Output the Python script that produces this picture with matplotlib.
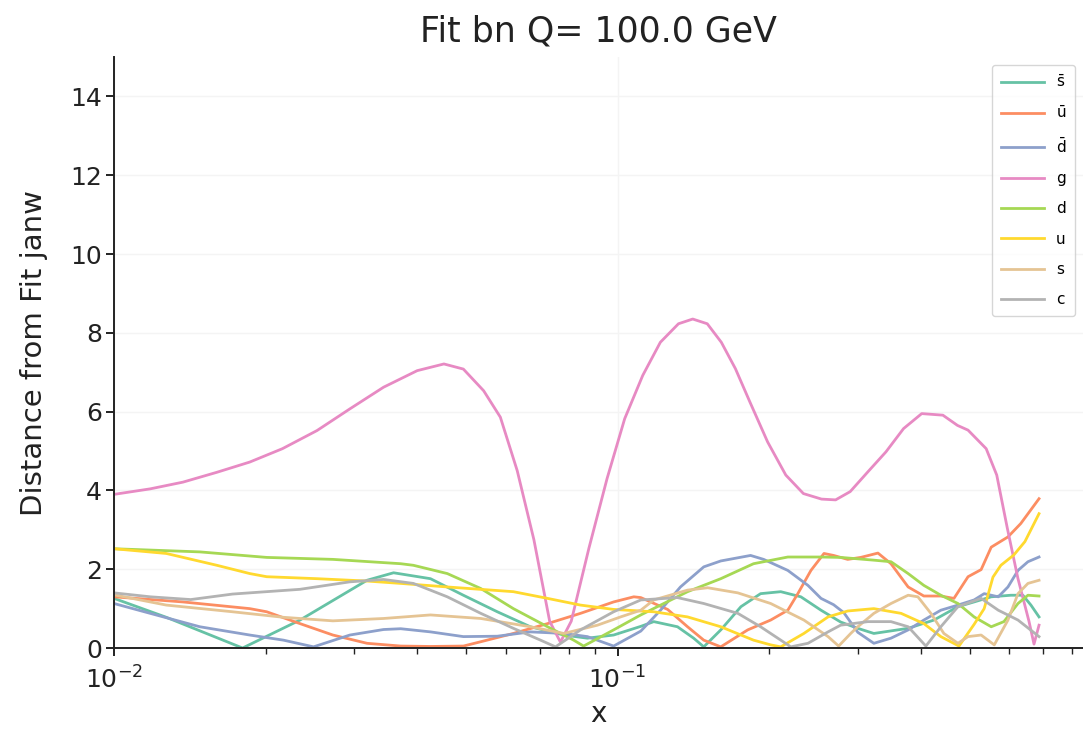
import matplotlib
matplotlib.use("Agg")
import matplotlib.pyplot as plt

# Distance of each parton distribution from the reference fit, Q = 100 GeV
sbar_x = [0.01, 0.0127, 0.018, 0.0234, 0.0318, 0.0359, 0.0425, 0.0494, 0.0577, 0.0671,
          0.0782, 0.0871, 0.0982, 0.1112, 0.118, 0.1315, 0.1416, 0.1483, 0.1603, 0.1758,
          0.1923, 0.2109, 0.2312, 0.2535, 0.2773, 0.2999, 0.3228, 0.3776, 0.4249, 0.4742,
          0.5105, 0.5521, 0.604, 0.638, 0.662, 0.687]
sbar_y = [1.26, 0.78, 0.0, 0.71, 1.72, 1.91, 1.76, 1.34, 0.92, 0.54,
          0.33, 0.25, 0.33, 0.55, 0.67, 0.54, 0.25, 0.03, 0.46, 1.05,
          1.38, 1.43, 1.30, 0.96, 0.66, 0.5, 0.37, 0.5, 0.71, 1.05,
          1.17, 1.30, 1.34, 1.34, 1.09, 0.79]

ubar_x = [0.01, 0.0137, 0.0186, 0.0201, 0.0234, 0.0272, 0.0318, 0.0371, 0.0425, 0.0494,
          0.0535, 0.0621, 0.0726, 0.0844, 0.0982, 0.1077, 0.1112, 0.1257, 0.1377, 0.1483,
          0.1603, 0.1813, 0.2014, 0.2178, 0.228, 0.2421, 0.257, 0.2685, 0.2864, 0.304,
          0.3289, 0.3491, 0.3776, 0.4057, 0.4385, 0.4656, 0.4966, 0.5272, 0.5521, 0.596,
          0.632, 0.687]
ubar_y = [1.3, 1.17, 1.0, 0.92, 0.62, 0.33, 0.12, 0.05, 0.04, 0.05,
          0.16, 0.37, 0.62, 0.88, 1.17, 1.30, 1.28, 0.98, 0.54, 0.2,
          0.03, 0.46, 0.71, 0.96, 1.38, 1.97, 2.40, 2.35, 2.25, 2.30,
          2.41, 2.14, 1.55, 1.32, 1.32, 1.26, 1.81, 1.99, 2.56, 2.82,
          3.16, 3.79]

dbar_x = [0.01, 0.0118, 0.0148, 0.0186, 0.0217, 0.0249, 0.0294, 0.0343, 0.0371, 0.0425,
          0.0494, 0.0577, 0.0671, 0.0782, 0.0871, 0.0982, 0.1112, 0.1217, 0.1333, 0.1483,
          0.1603, 0.1837, 0.195, 0.2178, 0.2388, 0.2535, 0.2685, 0.2813, 0.2999, 0.3228,
          0.3491, 0.3776, 0.4057, 0.4385, 0.4742, 0.5105, 0.5346, 0.5702, 0.596, 0.624,
          0.653, 0.687]
dbar_y = [1.13, 0.88, 0.54, 0.33, 0.2, 0.03, 0.33, 0.47, 0.49, 0.41,
          0.29, 0.3, 0.41, 0.37, 0.29, 0.05, 0.43, 0.96, 1.55, 2.06,
          2.21, 2.35, 2.25, 1.97, 1.59, 1.26, 1.1, 0.9, 0.4, 0.12,
          0.25, 0.46, 0.71, 0.96, 1.09, 1.22, 1.38, 1.30, 1.55, 1.97,
          2.19, 2.31]

g_x = [0.01, 0.0118, 0.0137, 0.016, 0.0186, 0.0216, 0.0253, 0.0294, 0.0343, 0.04,
       0.0452, 0.0494, 0.0542, 0.0585, 0.0632, 0.0682, 0.0733, 0.077, 0.0809, 0.0877,
       0.0953, 0.1033, 0.1122, 0.1216, 0.1321, 0.141, 0.1507, 0.1607, 0.1714, 0.1832,
       0.1986, 0.2158, 0.2339, 0.2541, 0.271, 0.2897, 0.314, 0.3412, 0.3698, 0.4018,
       0.4426, 0.4732, 0.4966, 0.5395, 0.5662, 0.5943, 0.6237, 0.6561, 0.6714, 0.687]
g_y = [3.9, 4.04, 4.21, 4.46, 4.72, 5.06, 5.52, 6.07, 6.62, 7.04,
       7.21, 7.08, 6.53, 5.86, 4.5, 2.75, 0.68, 0.15, 0.68, 2.53,
       4.30, 5.82, 6.92, 7.76, 8.23, 8.35, 8.23, 7.76, 7.09, 6.24,
       5.23, 4.39, 3.92, 3.78, 3.76, 3.97, 4.47, 4.98, 5.57, 5.95,
       5.91, 5.65, 5.53, 5.06, 4.39, 3.04, 1.77, 0.68, 0.1, 0.58]

d_x = [0.01, 0.0148, 0.0201, 0.0272, 0.0371, 0.0393, 0.0459, 0.0535, 0.0621, 0.0726,
       0.0818, 0.0856, 0.0982, 0.1112, 0.1377, 0.1603, 0.1862, 0.2178, 0.2535, 0.2773,
       0.3228, 0.3491, 0.3776, 0.4057, 0.4385, 0.4742, 0.5105, 0.5521, 0.585, 0.624,
       0.653, 0.687]
d_y = [2.52, 2.44, 2.30, 2.25, 2.14, 2.10, 1.89, 1.51, 1.0, 0.54,
       0.2, 0.05, 0.46, 0.84, 1.43, 1.76, 2.14, 2.31, 2.31, 2.30,
       2.23, 2.19, 1.89, 1.59, 1.34, 1.13, 0.79, 0.54, 0.67, 1.13,
       1.34, 1.32]

u_x = [0.01, 0.0127, 0.016, 0.0186, 0.0201, 0.0253, 0.0318, 0.0371, 0.0459, 0.0621,
       0.0726, 0.0844, 0.0982, 0.118, 0.1377, 0.1603, 0.1862, 0.2014, 0.2109, 0.2344,
       0.2618, 0.2864, 0.3228, 0.3656, 0.4057, 0.4385, 0.4764, 0.5105, 0.5346, 0.5565,
       0.577, 0.612, 0.644, 0.687]
u_y = [2.52, 2.40, 2.10, 1.89, 1.81, 1.76, 1.70, 1.64, 1.55, 1.43,
       1.26, 1.09, 0.98, 0.92, 0.79, 0.54, 0.2, 0.08, 0.03, 0.37,
       0.79, 0.94, 1.0, 0.88, 0.62, 0.29, 0.05, 0.6, 1.0, 1.8,
       2.1, 2.36, 2.7, 3.41]

s_x = [0.01, 0.0127, 0.0172, 0.0217, 0.0272, 0.0343, 0.0425, 0.0535, 0.0671, 0.0782,
       0.0912, 0.1014, 0.1112, 0.118, 0.1377, 0.151, 0.1733, 0.2014, 0.2344, 0.2618,
       0.2748, 0.2904, 0.2999, 0.3228, 0.3491, 0.3776, 0.3948, 0.419, 0.4446, 0.4742,
       0.4966, 0.5272, 0.5598, 0.596, 0.624, 0.653, 0.687]
s_y = [1.35, 1.09, 0.92, 0.78, 0.69, 0.75, 0.84, 0.75, 0.54, 0.37,
       0.58, 0.79, 0.96, 1.22, 1.47, 1.53, 1.40, 1.13, 0.71, 0.29,
       0.05, 0.37, 0.54, 0.88, 1.13, 1.34, 1.30, 0.88, 0.37, 0.12,
       0.29, 0.33, 0.08, 0.71, 1.38, 1.64, 1.72]

c_x = [0.01, 0.0118, 0.0142, 0.0172, 0.0234, 0.0294, 0.0343, 0.0393, 0.0459, 0.0535,
       0.0621, 0.0703, 0.0753, 0.0844, 0.0982, 0.1112, 0.1315, 0.1483, 0.1733, 0.1923,
       0.2109, 0.2208, 0.2388, 0.2618, 0.2773, 0.314, 0.3491, 0.3776, 0.4095, 0.4385,
       0.4742, 0.5272, 0.5702, 0.624, 0.687]
c_y = [1.40, 1.30, 1.23, 1.37, 1.49, 1.68, 1.74, 1.64, 1.30, 0.88,
       0.5, 0.2, 0.03, 0.46, 0.92, 1.22, 1.28, 1.13, 0.88, 0.54,
       0.2, 0.03, 0.12, 0.41, 0.58, 0.67, 0.67, 0.54, 0.05, 0.54,
       1.05, 1.26, 0.96, 0.71, 0.29]

labels = [r"$\bar{\mathrm{s}}$", r"$\bar{\mathrm{u}}$", r"$\bar{\mathrm{d}}$",
          "g", "d", "u", "s", "c"]
colors = ["#66c2a5", "#fc8d62", "#8da0cb", "#e78ac3",
          "#a6d854", "#ffd92f", "#e5c494", "#b3b3b3"]
series = [(sbar_x, sbar_y), (ubar_x, ubar_y), (dbar_x, dbar_y), (g_x, g_y),
          (d_x, d_y), (u_x, u_y), (s_x, s_y), (c_x, c_y)]

plt.rcParams["font.family"] = ["DejaVu Sans"]

fig = plt.figure(figsize=(10.83, 7.31), dpi=100)
ax = fig.add_axes([0.1053, 0.1135, 0.8947, 0.8085])

for (xs, ys), lab, col in zip(series, labels, colors):
    ax.plot(xs, ys, color=col, lw=2.0, label=lab, solid_joinstyle="round")

ax.set_xscale("log")
ax.set_xlim(0.01, 0.84)
ax.set_ylim(0, 15)
ax.set_yticks(range(0, 15, 2))
ax.grid(True, which="major", color="#f4f4f4", lw=1.0)
ax.set_axisbelow(True)

for side in ("top", "right"):
    ax.spines[side].set_visible(False)
for side in ("left", "bottom"):
    ax.spines[side].set_color("#222222")
    ax.spines[side].set_linewidth(1.4)

ax.tick_params(axis="both", which="major", labelsize=18, length=6, width=1.4,
               color="#222222", labelcolor="#222222")
ax.tick_params(axis="y", which="major", pad=2.5)
ax.tick_params(axis="x", which="major", pad=7)
ax.tick_params(axis="x", which="minor", length=4, width=1.0, color="#222222")

ax.set_xlabel("x", fontsize=20, color="#222222", labelpad=5)
ax.set_ylabel("Distance from Fit janw", fontsize=21, color="#222222", labelpad=16)
ax.set_title("Fit bn Q= 100.0 GeV", fontsize=25, color="#222222", pad=11)

leg = ax.legend(loc="upper right", fontsize=11, labelspacing=1.0,
                handlelength=2.8, frameon=True, borderpad=0.6,
                bbox_to_anchor=(1.0, 1.0))
leg.get_frame().set_edgecolor("#cccccc")
leg.get_frame().set_linewidth(1.0)

fig.savefig("out.png", dpi=100)
